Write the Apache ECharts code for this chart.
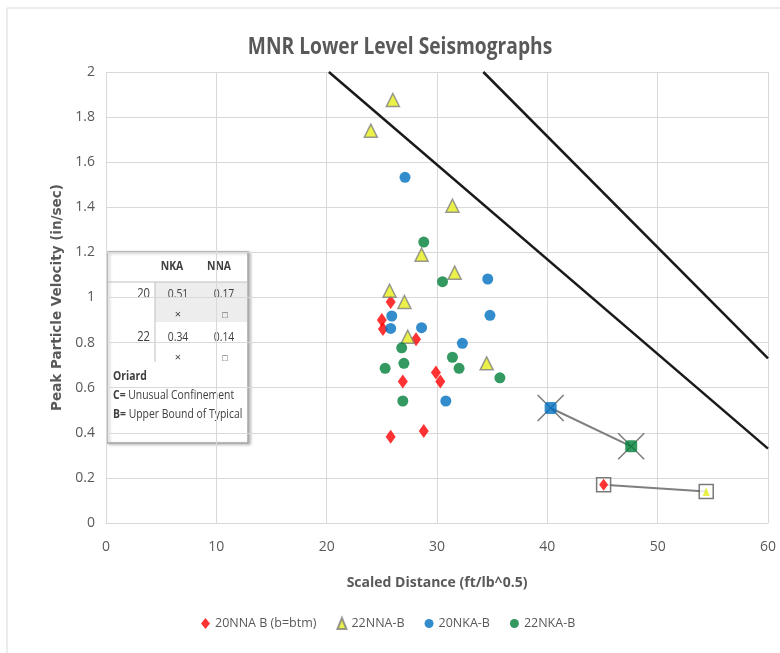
<!DOCTYPE html>
<html>
<head>
<meta charset="utf-8">
<script src="https://cdn.jsdelivr.net/npm/echarts@6/dist/echarts.min.js"></script>
<style>
  html, body { margin: 0; padding: 0; background: #fff; }
  #chart { width: 780px; height: 653px; }
</style>
</head>
<body>
<div id="chart"></div>
<script>
const FONT = "'Open Sans', sans-serif";

// scaled distance (ft/lb^0.5), peak particle velocity (in/sec)
const nna20 = [[25.8, 0.98], [25.0, 0.90], [25.1, 0.86], [28.1, 0.815], [29.9, 0.667], [30.3, 0.627], [26.9, 0.627], [25.8, 0.383], [28.8, 0.408]];
const nna22 = [[26.0, 1.876], [24.0, 1.74], [31.4, 1.407], [28.6, 1.19], [31.6, 1.11], [25.7, 1.03], [27.05, 0.98], [27.35, 0.826], [34.5, 0.708]];
const nka20 = [[27.1, 1.533], [34.6, 1.082], [25.9, 0.918], [25.8, 0.863], [28.6, 0.866], [34.8, 0.921], [32.3, 0.797], [30.8, 0.541]];
const nka22 = [[28.8, 1.246], [30.5, 1.07], [26.8, 0.777], [31.4, 0.735], [27.0, 0.708], [25.3, 0.686], [32.0, 0.686], [35.7, 0.644], [26.9, 0.541]];

// Oriard lines
const unusualConfinement = [[34.2, 2], [60, 0.73]];
const upperBoundTypical = [[20.2, 2], [60, 0.33]];

// Oriard table (rows 20 / 22)
const tableRows = ['20', '22'];
const nkaOriard = [0.51, 0.34];
const nnaOriard = [0.17, 0.14];
const nkaOriardDist = [40.3, 47.6];
const nnaOriardDist = [45.1, 54.4];

const nkaLink = nkaOriardDist.map((d, i) => [d, nkaOriard[i]]);
const nnaLink = nnaOriardDist.map((d, i) => [d, nnaOriard[i]]);

const chart = echarts.init(document.getElementById('chart'));

// narrow-looking text: Open Sans squeezed horizontally
const txt = (x, y, text, extra, sx) => ({
  type: 'text', x, y, scaleX: sx || 0.8,
  style: Object.assign({ text, font: '13px ' + FONT, fill: '#404040', textAlign: 'center', textVerticalAlign: 'middle' }, extra || {})
});
const richB = { b: { fontWeight: 'bold', fontFamily: FONT, fontSize: 13, fill: '#404040' } };

const tableEls = [
  { type: 'rect', shape: { x: 107, y: 252, width: 141, height: 191 },
    style: { fill: '#fff', stroke: '#a6a6a6', lineWidth: 1.5, shadowBlur: 3, shadowColor: 'rgba(0,0,0,0.25)', shadowOffsetX: 2, shadowOffsetY: 1 } },
  { type: 'rect', shape: { x: 155, y: 282, width: 92, height: 40 }, style: { fill: '#ededed' } },
  { type: 'line', shape: { x1: 108, y1: 282, x2: 247, y2: 282 }, style: { stroke: '#bfbfbf', lineWidth: 1 } },
  { type: 'line', shape: { x1: 155, y1: 282, x2: 155, y2: 362 }, style: { stroke: '#bfbfbf', lineWidth: 1 } },
  txt(172, 266, 'NKA', { font: 'bold 13px ' + FONT }),
  txt(219, 266, 'NNA', { font: 'bold 13px ' + FONT }),
  txt(113, 376, 'Oriard', { font: 'bold 13px ' + FONT, textAlign: 'left' }),
  txt(113, 395, '{b|C=} Unusual Confinement', { textAlign: 'left', rich: richB }),
  txt(113, 414, '{b|B=} Upper Bound of Typical', { textAlign: 'left', rich: richB })
];
tableRows.forEach((r, i) => {
  const y = 294 + i * 43;
  tableEls.push(txt(150, y, r, { textAlign: 'right', font: '14px ' + FONT }));
  tableEls.push(txt(178, y, nkaOriard[i].toFixed(2)));
  tableEls.push(txt(224, y, nnaOriard[i].toFixed(2)));
  tableEls.push(txt(178, y + 21, '\u00d7', { font: '11px ' + FONT }, 1));
  tableEls.push(txt(225, y + 21, '\u25a1', { font: '9px ' + FONT }, 1));
});

const lineSeries = (name, data, color, width) => ({
  name, type: 'line', data, symbol: 'none', silent: true, z: 1,
  lineStyle: { color, width }
});

chart.setOption({
  animation: false,
  backgroundColor: '#fff',
  grid: { left: 106, right: 12, top: 72, bottom: 130 },
  xAxis: {
    type: 'value', min: 0, max: 60, interval: 10,
    name: 'Scaled Distance (ft/lb^0.5)', nameLocation: 'middle', nameGap: 53,
    nameTextStyle: { fontFamily: FONT, fontSize: 14, fontWeight: 'bold', color: '#595959' },
    axisLine: { show: true, lineStyle: { color: '#d9d9d9' } },
    axisTick: { show: false },
    axisLabel: { margin: 17, fontFamily: FONT, fontSize: 14, color: '#595959' },
    splitLine: { lineStyle: { color: '#d9d9d9' } }
  },
  yAxis: {
    type: 'value', min: 0, max: 2, interval: 0.2,
    name: 'Peak Particle Velocity (in/sec)', nameLocation: 'middle', nameGap: 42,
    nameTextStyle: { fontFamily: "'DejaVu Sans', Verdana, sans-serif", fontSize: 13.5, fontWeight: 'bold', color: '#595959' },
    axisLine: { show: true, lineStyle: { color: '#d9d9d9' } },
    axisTick: { show: false },
    axisLabel: { margin: 11, fontFamily: FONT, fontSize: 14, color: '#595959' },
    splitLine: { lineStyle: { color: '#d9d9d9' } }
  },
  legend: {
    left: 196, top: 612, itemGap: 20, itemWidth: 9, itemHeight: 11,
    textStyle: { fontFamily: FONT, fontSize: 12.5, color: '#595959' },
    data: ['20NNA B (b=btm)', '22NNA-B', '20NKA-B', '22NKA-B']
  },
  graphic: [
    { type: 'rect', shape: { x: 7, y: 8, width: 800, height: 700 }, style: { fill: 'none', stroke: '#d9d9d9', lineWidth: 1 }, z: -10 },
    txt(400, 47, 'MNR Lower Level Seismographs', { font: 'bold 24px ' + FONT, fill: '#595959' }, 0.8),
    { type: 'group', children: tableEls, z: 100 }
  ],
  series: [
    lineSeries('Unusual Confinement', unusualConfinement, '#1a1a1a', 2.5),
    lineSeries('Upper Bound of Typical', upperBoundTypical, '#1a1a1a', 2.5),
    lineSeries('NKA Oriard', nkaLink, '#7f7f7f', 2),
    lineSeries('NNA Oriard', nnaLink, '#7f7f7f', 2),
    { name: 'NKA Oriard X', type: 'scatter', data: nkaLink, symbol: 'path://M0,0L10,10M10,0L0,10', symbolSize: 26, z: 3,
      itemStyle: { color: 'none', borderColor: '#595959', borderWidth: 1.5 } },
    { name: 'NNA Oriard box', type: 'scatter', data: nnaLink, symbol: 'rect', symbolSize: 14, z: 3,
      itemStyle: { color: '#fff', borderColor: '#595959', borderWidth: 1.5 } },
    { name: 'NKA Oriard pts', type: 'scatter', data: nkaLink, symbol: 'roundRect', symbolSize: 12, z: 4,
      itemStyle: { color: (p) => p.dataIndex === 0 ? '#0070c0' : '#00803a' } },
    { name: 'NNA Oriard pts', type: 'scatter', data: nnaLink, z: 4,
      symbol: (v, p) => p.dataIndex === 0 ? 'diamond' : 'triangle',
      symbolSize: (v, p) => p.dataIndex === 0 ? [9, 12] : [7, 9],
      itemStyle: { color: (p) => p.dataIndex === 0 ? '#ff0000' : '#e6ee1c' } },
    { name: '20NNA B (b=btm)', type: 'scatter', data: nna20, symbol: 'diamond', symbolSize: [10, 14], z: 5,
      itemStyle: { color: '#ff0000' } },
    { name: '22NNA-B', type: 'scatter', data: nna22, symbol: 'triangle', symbolSize: [13, 13], z: 5,
      itemStyle: { color: '#e6ee1c', borderColor: '#7f7f7f', borderWidth: 1.5 } },
    { name: '20NKA-B', type: 'scatter', data: nka20, symbol: 'circle', symbolSize: 11, z: 5,
      itemStyle: { color: '#0070c0' } },
    { name: '22NKA-B', type: 'scatter', data: nka22, symbol: 'circle', symbolSize: 11, z: 5,
      itemStyle: { color: '#00803a' } }
  ]
});
</script>
</body>
</html>
